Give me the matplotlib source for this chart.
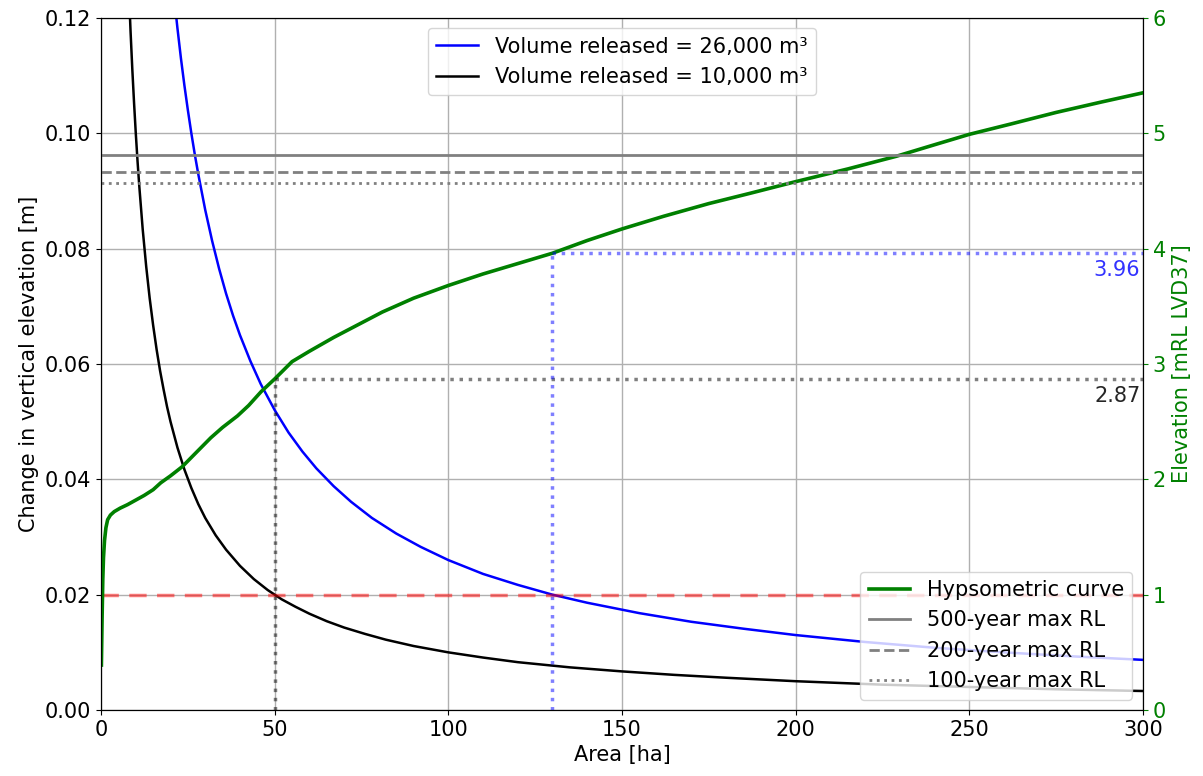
import matplotlib
matplotlib.use("Agg")
import matplotlib.pyplot as plt

# ---------------------------------------------------------------------------
# Data
# ---------------------------------------------------------------------------
# depth change for 10,000 m3 released over a given area
area_10k = [8, 8.5, 9, 9.5, 10, 10.5, 11, 12, 13, 14, 15, 16, 17, 18, 19, 20,
            22, 24, 26, 28, 30, 33, 36, 40, 44, 48, 52, 56, 60, 65, 70, 76,
            82, 90, 100, 110, 120, 135, 150, 165, 180, 200, 225, 250, 275, 300]
depth_10k = [0.1250, 0.1176, 0.1111, 0.1053, 0.1000, 0.0952, 0.0909, 0.0833,
             0.0769, 0.0714, 0.0667, 0.0625, 0.0588, 0.0556, 0.0526, 0.0500,
             0.0455, 0.0417, 0.0385, 0.0357, 0.0333, 0.0303, 0.0278, 0.0250,
             0.0227, 0.0208, 0.0192, 0.0179, 0.0167, 0.0154, 0.0143, 0.0132,
             0.0122, 0.0111, 0.0100, 0.0091, 0.0083, 0.0074, 0.0067, 0.0061,
             0.0056, 0.0050, 0.0044, 0.0040, 0.0036, 0.0033]

# depth change for 26,000 m3 released
area_26k = [20, 21, 22, 23, 24, 25, 26, 27, 28, 30, 32, 34, 36, 38, 40, 43,
            46, 50, 54, 58, 62, 67, 72, 78, 85, 92, 100, 110, 120, 130, 140,
            155, 170, 185, 200, 220, 240, 260, 280, 300]
depth_26k = [0.1300, 0.1238, 0.1182, 0.1130, 0.1083, 0.1040, 0.1000, 0.0963,
             0.0929, 0.0867, 0.0813, 0.0765, 0.0722, 0.0684, 0.0650, 0.0605,
             0.0565, 0.0520, 0.0481, 0.0448, 0.0419, 0.0388, 0.0361, 0.0333,
             0.0306, 0.0283, 0.0260, 0.0236, 0.0217, 0.0200, 0.0186, 0.0168,
             0.0153, 0.0141, 0.0130, 0.0118, 0.0108, 0.0100, 0.0093, 0.0087]

# hypsometric curve: area [ha] vs elevation [mRL LVD37]
hyp_area = [0.1, 0.3, 0.5, 0.7, 1.0, 1.4, 1.9, 2.7, 3.8, 5.5, 7.6, 10, 12.4,
            15, 17.2, 20, 23.4, 27, 31.6, 35, 39.3, 42.5, 46.1, 50, 55, 60,
            67, 74, 81, 90, 100, 110, 120, 130, 140, 150, 162, 175, 187, 200,
            215, 229, 240, 250, 262, 275, 288, 300]
hyp_elev = [0.39, 0.80, 1.13, 1.32, 1.47, 1.58, 1.65, 1.69, 1.72, 1.75, 1.78,
            1.82, 1.86, 1.91, 1.97, 2.03, 2.11, 2.22, 2.36, 2.45, 2.55, 2.64,
            2.76, 2.87, 3.02, 3.11, 3.23, 3.34, 3.45, 3.57, 3.68, 3.78, 3.87,
            3.96, 4.07, 4.17, 4.28, 4.39, 4.48, 4.58, 4.69, 4.80, 4.90, 4.99,
            5.08, 5.18, 5.27, 5.35]

# max reduced levels for return periods
rl_labels = ["500-year max RL", "200-year max RL", "100-year max RL"]
rl_values = [4.81, 4.66, 4.57]
rl_styles = ["-", "--", ":"]

threshold = 0.02          # target change in elevation [m]
area_10k_hit, elev_10k_hit = 50, 2.87
area_26k_hit, elev_26k_hit = 130, 3.96

# ---------------------------------------------------------------------------
plt.rcParams.update({"font.size": 15})

fig, ax = plt.subplots(figsize=(12.03, 7.76), dpi=100)
fig.subplots_adjust(left=0.084, right=0.950, top=0.977, bottom=0.085)

ax.plot(area_26k, depth_26k, color="blue", lw=1.8,
        label="Volume released = 26,000 m³")
ax.plot(area_10k, depth_10k, color="black", lw=1.8,
        label="Volume released = 10,000 m³")
ax.axhline(threshold, color="red", ls="--", lw=2.5, alpha=0.5,
           dashes=(5, 3))

ax.set_xlim(0, 300)
ax.set_ylim(0, 0.12)
ax.set_xlabel("Area [ha]")
ax.set_ylabel("Change in vertical elevation [m]")
ax.grid(True, color="#b0b0b0", lw=1.0)
ax.legend(loc="upper center", framealpha=0.8)

ax2 = ax.twinx()
ax2.plot(hyp_area, hyp_elev, color="green", lw=2.6, label="Hypsometric curve")
for lab, val, ls in zip(rl_labels, rl_values, rl_styles):
    ax2.axhline(val, color="gray", ls=ls, lw=2, label=lab)

# read-off lines for the two volumes
ax2.plot([area_10k_hit, area_10k_hit], [0, elev_10k_hit], color="black",
         ls=":", lw=2.5, alpha=0.5)
ax2.plot([area_10k_hit, 300], [elev_10k_hit, elev_10k_hit], color="black",
         ls=":", lw=2.5, alpha=0.5)
ax2.plot([area_26k_hit, area_26k_hit], [0, elev_26k_hit], color="blue",
         ls=":", lw=2.5, alpha=0.5)
ax2.plot([area_26k_hit, 300], [elev_26k_hit, elev_26k_hit], color="blue",
         ls=":", lw=2.5, alpha=0.5)
ax2.text(299.3, elev_26k_hit - 0.06, f"{elev_26k_hit:.2f}", color="blue",
         alpha=0.8, ha="right", va="top")
ax2.text(299.3, elev_10k_hit - 0.06, f"{elev_10k_hit:.2f}", color="black",
         alpha=0.85, ha="right", va="top")

ax2.set_ylim(0, 6)
ax2.set_ylabel("Elevation [mRL LVD37]", color="green")
ax2.tick_params(axis="y", colors="green")
ax2.legend(loc="lower right", framealpha=0.8)

fig.savefig("out.png", dpi=100)
